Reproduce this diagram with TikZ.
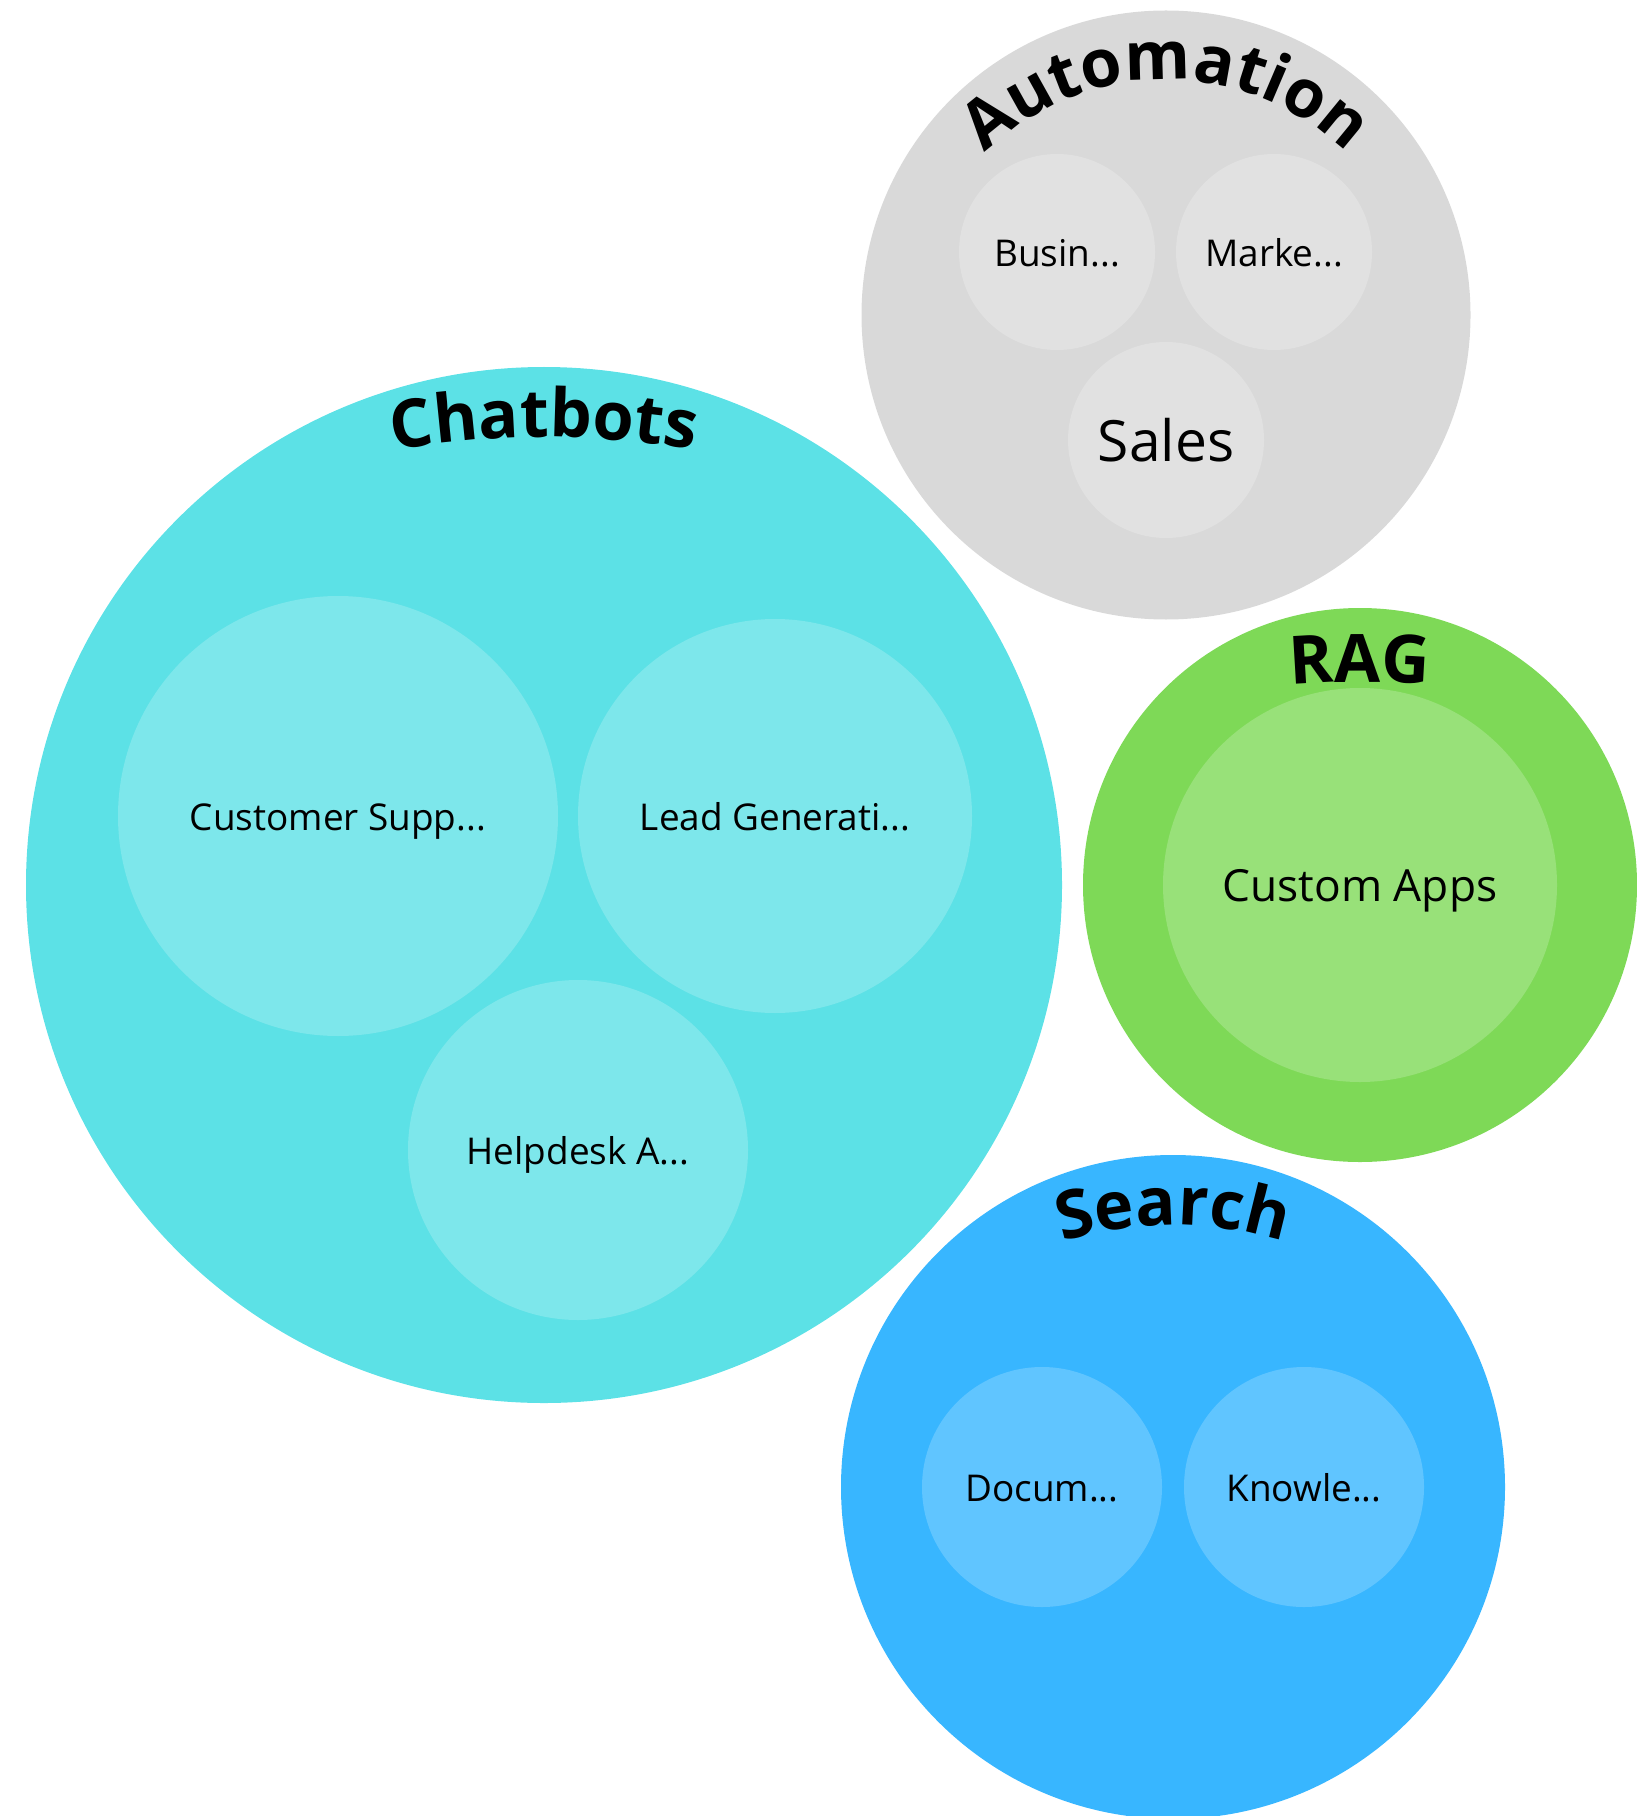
\documentclass[tikz,border=0pt]{standalone}
\usepackage{fontspec}
\setmainfont{Open Sans}
\usetikzlibrary{decorations.text}
\definecolor{chatout}{HTML}{5CE1E6}
\definecolor{chatin}{HTML}{7DE7EB}
\definecolor{autoout}{HTML}{D9D9D9}
\definecolor{autoin}{HTML}{E1E1E1}
\definecolor{ragout}{HTML}{7ED957}
\definecolor{ragin}{HTML}{98E179}
\definecolor{srchout}{HTML}{38B6FF}
\definecolor{srchin}{HTML}{60C5FF}
\newcommand\ttlfont{\fontsize{19pt}{19pt}\selectfont\bfseries}
\newcommand\lblfont{\fontsize{10.5pt}{12pt}\selectfont}
\tikzset{
  bubble/.style={circle, inner sep=0pt, draw=none, minimum size=#1},
  lbl/.style={font=\lblfont, text=black, text height=8pt, text depth=0pt},
  titlearc/.style={decorate, decoration={text along path, text align=center, text={|\ttlfont|#1}}}
}
\begin{document}
\begin{tikzpicture}
\useasboundingbox (0,0) rectangle (16.36,-18.16);
% Chatbots
\node[bubble=10.36cm, fill=chatout] (chat) at (5.44,-8.85) {};
\node[bubble=4.40cm, fill=chatin, lbl] (cust) at (3.38,-8.16) {Customer Supp...};
\node[bubble=3.94cm, fill=chatin, lbl] (lead) at (7.75,-8.16) {Lead Generati...};
\node[bubble=3.40cm, fill=chatin, lbl] (help) at (5.78,-11.50) {Helpdesk A...};
\coordinate (chatc) at (5.44,-12.87);
\path[titlearc=Chatbots] (chatc) ++(112:8.5cm) arc[start angle=112, end angle=68, radius=8.5cm];
% Automation
\node[bubble=6.09cm, fill=autoout] (auto) at (11.66,-3.15) {};
\node[bubble=1.96cm, fill=autoin, lbl] (busi) at (10.57,-2.52) {Busin...};
\node[bubble=1.96cm, fill=autoin, lbl] (mark) at (12.74,-2.52) {Marke...};
\node[bubble=1.96cm, fill=autoin, font=\fontsize{16.2pt}{18pt}\selectfont] (sale) at (11.66,-4.40) {Sales};
\coordinate (autoc) at (11.66,-3.40);
\path[titlearc=Automation] (autoc) ++(160:2.6cm) arc[start angle=160, end angle=20, radius=2.6cm];
% RAG
\node[bubble=5.54cm, fill=ragout] (rag) at (13.60,-8.85) {};
\node[bubble=3.94cm, fill=ragin, font=\fontsize{12.6pt}{14pt}\selectfont, text height=9.6pt, text depth=0pt] (capp) at (13.60,-8.85) {Custom Apps};
\coordinate (ragc) at (13.60,-14.82);
\path[titlearc=RAG] (ragc) ++(110:8cm) arc[start angle=110, end angle=70, radius=8cm];
% Search
\node[bubble=6.64cm, fill=srchout] (srch) at (11.73,-14.87) {};
\node[bubble=2.40cm, fill=srchin, lbl] (docu) at (10.42,-14.87) {Docum...};
\node[bubble=2.40cm, fill=srchin, lbl] (know) at (13.04,-14.87) {Knowle...};
\coordinate (srchc) at (11.73,-16.0);
\path[titlearc=Search] (srchc) ++(150:3.75cm) arc[start angle=150, end angle=30, radius=3.75cm];
\end{tikzpicture}
\end{document}
